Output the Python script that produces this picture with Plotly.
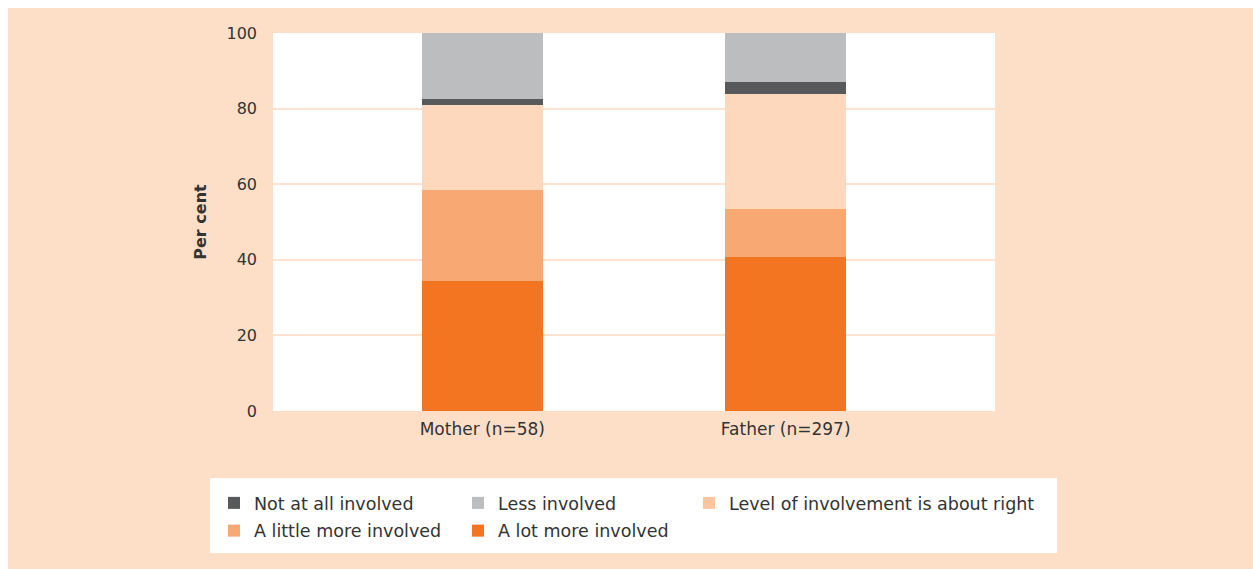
import plotly.graph_objects as go

categories = ["Mother (n=58)", "Father (n=297)"]
series_names = [
    "A lot more involved",
    "A little more involved",
    "Level of involvement is about right",
    "Not at all involved",
    "Less involved",
]
a_lot = [34.3, 40.7]
a_little = [24.1, 12.7]
about_right = [22.5, 30.4]
not_at_all = [1.6, 3.2]
less = [17.5, 13.0]
series_values = [a_lot, a_little, about_right, not_at_all, less]
colors = ["#F37521", "#F7A873", "#FDD8BD", "#58595B", "#BCBDBF"]
legend_colors = ["#F37521", "#F7A873", "#FDC59B", "#58595B", "#BCBDBF"]
legend_ids = ["legend2", "legend", "legend3", "legend", "legend2"]
legend_ranks = [2, 2, 1, 1, 1]
y_ticks = [0, 20, 40, 60, 80, 100]

OFF = 8  # page body margin (top/left)
W, H = 1253 - OFF, 569 - OFF
L, R, T, B = 273 - OFF, 1253 - 995, 33 - OFF, 569 - 411
pw, ph = W - L - R, H - T - B


def px_x(p):
    return (p - OFF - L) / pw


def px_y(p):
    return (H - B - (p - OFF)) / ph


fig = go.Figure()
for name, vals, col, lcol, lid, rk in zip(series_names, series_values, colors,
                                          legend_colors, legend_ids, legend_ranks):
    same = col == lcol
    fig.add_trace(go.Bar(
        x=categories, y=vals, name=name, marker=dict(color=col, line=dict(width=0)),
        width=0.4, legend=lid, legendrank=rk, legendgroup=name, showlegend=same,
    ))
    if not same:
        fig.add_trace(go.Bar(
            x=[categories[0]], y=[None], name=name,
            marker=dict(color=lcol, line=dict(width=0)), width=0.4,
            legend=lid, legendrank=rk, legendgroup=name, showlegend=True,
            hoverinfo="skip",
        ))

font_family = "DejaVu Sans"
text_color = "#333333"
legend_font = dict(size=17.5, family=font_family, color=text_color)
legend_common = dict(orientation="v", xanchor="left", yanchor="top",
                     bgcolor="rgba(0,0,0,0)", font=legend_font,
                     tracegroupgap=2, itemclick=False, itemdoubleclick=False)
legend_top = px_y(485)

fig.update_layout(
    width=W, height=H,
    margin=dict(l=L, r=R, t=T, b=B, pad=0),
    barmode="stack",
    paper_bgcolor="#FDDFC8",
    plot_bgcolor="#FFFFFF",
    font=dict(family=font_family, size=16, color=text_color),
    xaxis=dict(range=[-0.69, 1.69], showgrid=False, showline=False, ticks="",
               tickfont=dict(size=17), ticklabelstandoff=6),
    yaxis=dict(range=[0, 100], tickvals=y_ticks, showgrid=True, gridcolor="#FDE3D0",
               gridwidth=2, zeroline=False, showline=False, ticks="",
               tickfont=dict(size=16), ticklabelstandoff=15,
               title=dict(text="<b>Per cent</b>", font=dict(size=16), standoff=15)),
    legend=dict(x=px_x(214), y=legend_top, **legend_common),
    legend2=dict(x=px_x(458), y=legend_top, **legend_common),
    legend3=dict(x=px_x(689), y=legend_top, **legend_common),
    shapes=[
        dict(type="rect", xref="paper", yref="paper", x0=px_x(210), x1=px_x(1057),
             y0=px_y(553), y1=px_y(478), fillcolor="#FFFFFF", line=dict(width=0),
             layer="below"),
    ],
    showlegend=True,
)

fig.write_html(
    "out.html",
    post_script="document.body.style.margin='8px 0 0 8px';"
                "document.body.style.overflow='hidden';",
)
